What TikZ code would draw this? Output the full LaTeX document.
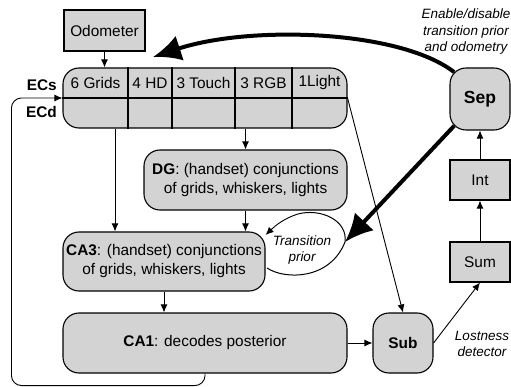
\documentclass[tikz,border=0pt]{standalone}
\usepackage{fontspec}
\setmainfont{Liberation Sans}
\usetikzlibrary{positioning, arrows.meta, calc}
\definecolor{boxgray}{RGB}{211,211,211}

\begin{document}
\begin{tikzpicture}[x=1pt, y=-1pt,
	font=\fontsize{15.4}{19}\selectfont,
	box/.style={draw, line width=1.1pt, fill=boxgray, inner sep=0pt, align=center},
	rbox/.style={box, rounded corners=16pt},
	note/.style={font=\fontsize{13.5}{16.5}\selectfont\itshape, align=center},
	arr/.style={-{Latex[length=8pt,width=7pt]}, line width=0.9pt},
	bigarr/.style={-{Latex[length=28pt,width=26pt]}, line width=4pt}]
	\useasboundingbox (0,0) rectangle (511,387);

	\node[box, minimum width=81pt, minimum height=41pt] (odo) at (104.5,30.5) {Odometer};
	\node[rbox, minimum width=284pt, minimum height=60pt] (ec) at (205,98) {};
	\draw[line width=1.1pt] (ec.west) -- (ec.east);
	\foreach \x in {128,172,235,292}
		\draw[line width=1.1pt] (\x,0 |- ec.north) -- (\x,0 |- ec.south);
	\node (c1) at (95.5,83) {6 Grids};
	\node (c2) at (150,83) {4 HD};
	\node (c3) at (203.5,83) {3 Touch};
	\node (c4) at (263.5,83) {3 RGB};
	\node (c5) at (319.5,83) {1Light};
	\node[anchor=east, font=\fontsize{15.4}{19}\selectfont\bfseries, inner sep=0pt] (ecs) at (57,85) {ECs};
	\node[anchor=east, font=\fontsize{15.4}{19}\selectfont\bfseries, inner sep=0pt] (ecd) at (57,112) {ECd};

	\node[rbox, minimum width=203pt, minimum height=60pt] (dg) at (245.5,180)
		{\textbf{DG}: (handset) conjunctions\\of grids, whiskers, lights};
	\node[rbox, minimum width=202pt, minimum height=59pt] (ca3) at (164,261.5)
		{\textbf{CA3}: (handset) conjunctions\\of grids, whiskers, lights};
	\node[rbox, minimum width=284pt, minimum height=60pt] (ca1) at (205,343)
		{\textbf{CA1}: decodes posterior};
	\node[rbox, minimum width=60pt, minimum height=60pt] (sub) at (403,343) {\textbf{Sub}};
	\node[box, minimum width=60pt, minimum height=40pt] (sum) at (480,262) {Sum};
	\node[box, minimum width=60pt, minimum height=40pt] (int) at (480,180) {Int};
	\node[rbox, minimum width=60pt, minimum height=62pt, font=\fontsize{17.5}{19}\selectfont\bfseries] (sep) at (480,99) {Sep};

	\node[note] (entext) at (466,32) {Enable/disable\\transition prior\\and odometry};
	\node[note] (lost) at (482,344) {Lostness\\detector};
	\node[note] (tp) at (302,250) {Transition\\prior};
	\coordinate (cloudtip) at (345,242);

	\draw[arr] (odo.south) -- (odo.south |- ec.north);
	\draw[arr] (dg.north |- ec.south) -- (dg.north);
	\draw[arr] (dg.south) -- (dg.south |- ca3.north);
	\draw[arr] ([xshift=-90pt]ec.south) -- ([xshift=-90pt]ec.south |- ca3.north);
	\draw[arr] (ca3.south) -- (ca3.south |- ca1.north);
	\draw[arr] (ca1.east) -- (sub.west);
	\draw[arr] (ec.east) -- (sub.north);
	\draw[arr] (sub.east) -- (sum.south);
	\draw[arr] (sum.north) -- (int.south);
	\draw[arr] (int.north) -- (sep.south);
	\draw[arr, rounded corners=10pt] (ca1.south) -- ++(0,12) -| ([xshift=-51pt]ec.west) -- (ec.west);

	\draw[line width=1pt] (267,268) .. controls (285,280) and (330,280) .. (cloudtip)
		.. controls (348,220) and (320,208) .. (298,214);
	\draw[arr] (298,214) .. controls (285,218) and (276,225) .. (ca3.east |- 0,235);

	\draw[bigarr] ([shift={(4.7,4.7)}]sep.north west) .. controls (400,30) and (250,25) .. (153,57);
	\draw[bigarr] ([shift={(4.7,-4.7)}]sep.south west) -- (cloudtip);
\end{tikzpicture}
\end{document}
